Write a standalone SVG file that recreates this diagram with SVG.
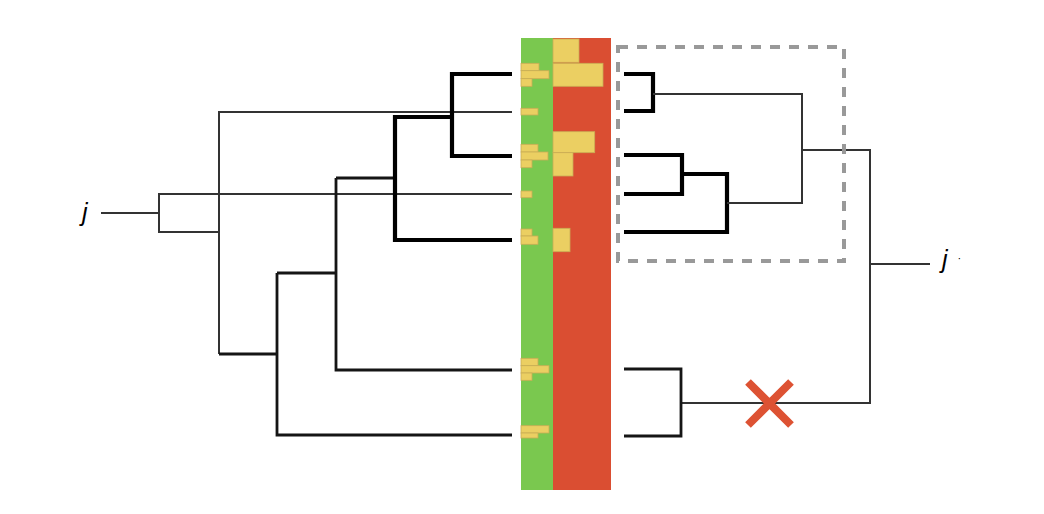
<svg xmlns="http://www.w3.org/2000/svg" width="1044" height="514" viewBox="0 0 1044 514">
<style>
.t1{fill:none;stroke:#333;stroke-width:2;stroke-linejoin:miter}
.t2{fill:none;stroke:#151515;stroke-width:2.8;stroke-linejoin:miter}
.t3{fill:none;stroke:#000;stroke-width:4.2;stroke-linejoin:miter}
.y{fill:#ebcf62;stroke:#c9ad55;stroke-width:0.8}
.lbl{font-family:"Liberation Sans",Arial,sans-serif;font-style:italic;font-size:25px;fill:#000}
</style>
<rect width="1044" height="514" fill="#fff"/>
<g id="heatmap">
<rect x="521" y="38" width="32" height="452" fill="#7ac84f"/>
<rect x="553" y="38" width="58" height="452" fill="#da4e32"/>
<rect class="y" x="521" y="63.3" width="18" height="7.4"/>
<rect class="y" x="521" y="70.7" width="28" height="8"/>
<rect class="y" x="521" y="78.7" width="11" height="7.6"/>
<rect class="y" x="521" y="108.3" width="17" height="6.7"/>
<rect class="y" x="521" y="144.3" width="17" height="7.7"/>
<rect class="y" x="521" y="152" width="27" height="8"/>
<rect class="y" x="521" y="160" width="11" height="7.7"/>
<rect class="y" x="521" y="191" width="11" height="6.7"/>
<rect class="y" x="521" y="229" width="11" height="7"/>
<rect class="y" x="521" y="236" width="17" height="8.3"/>
<rect class="y" x="521" y="358.3" width="17" height="7.4"/>
<rect class="y" x="521" y="365.7" width="28" height="7.3"/>
<rect class="y" x="521" y="373" width="11" height="7.3"/>
<rect class="y" x="521" y="425.7" width="28" height="7.3"/>
<rect class="y" x="521" y="433" width="17" height="5"/>
<rect class="y" x="553" y="39" width="26" height="23.3"/>
<rect class="y" x="553" y="63.3" width="50" height="23"/>
<rect class="y" x="553" y="131.7" width="41.7" height="21"/>
<rect class="y" x="553" y="152.7" width="20" height="23.3"/>
<rect class="y" x="553" y="228.3" width="17" height="23.4"/>
</g>
<g id="connectors">
<g id="left-tree">
<path class="t1" d="M512 112 H219 V354"/>
<path class="t1" d="M512 194 H159 V232 H219"/>
<path class="t1" d="M101 213 H159"/>
<path class="t2" d="M219 354 H277"/>
<path class="t2" d="M277 273 V435 H512"/>
<path class="t2" d="M277 273 H336"/>
<path class="t2" d="M336 178 V370 H512"/>
<path class="t2" d="M336 178 H395"/>
<path class="t3" d="M512 74 H452 V156 H512"/>
<path class="t3" d="M452 117 H395 V240 H512"/>
</g>
<g id="right-tree">
<path class="t3" d="M624 74 H653 V111 H624"/>
<path class="t3" d="M624 155 H682 V194 H624"/>
<path class="t3" d="M682 174 H727 V232 H624"/>
<path class="t1" d="M653 94 H802 V203 H727"/>
<path class="t1" d="M802 150 H870 V403 H681"/>
<path class="t1" d="M870 264 H930"/>
<path class="t2" d="M624 369 H681 V436 H624"/>
</g>
</g>
<g id="highlight-box">
<rect x="618" y="47" width="226" height="214" fill="none" stroke="#999" stroke-width="4" stroke-dasharray="10 9"/>
</g>
<g id="cut-mark">
<path d="M748 382 L791 425 M791 382 L748 425" stroke="#dd5233" stroke-width="8" fill="none"/>
</g>
<g id="labels">
<text class="lbl" x="82" y="221">j</text>
<text class="lbl" x="942" y="268">j<tspan font-size="11" font-style="normal" dx="10" dy="-6">·</tspan></text>
</g>
</svg>
